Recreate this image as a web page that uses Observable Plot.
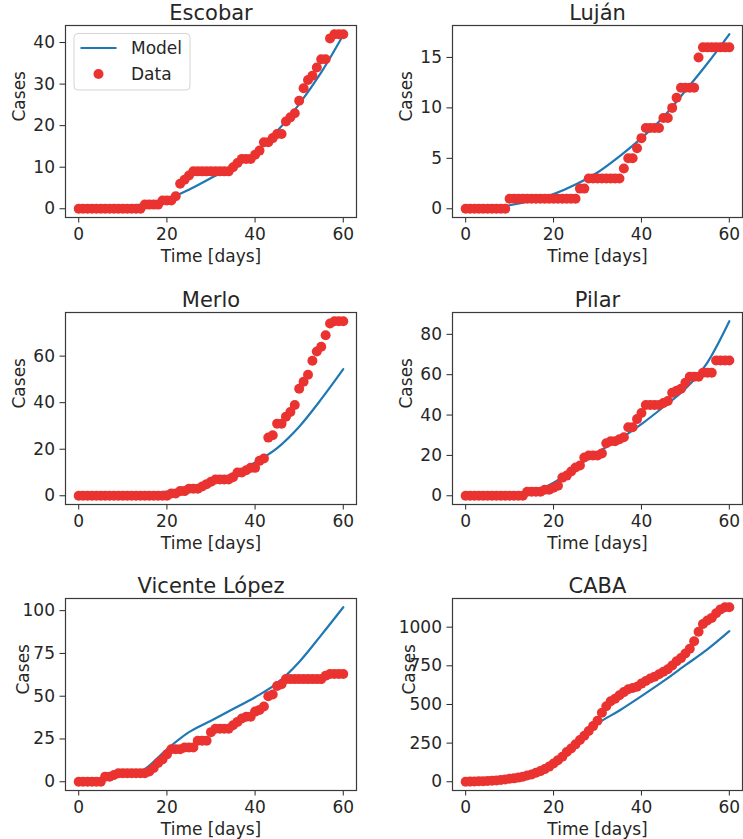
<!DOCTYPE html>
<html><head><meta charset="utf-8">
<script src="https://cdn.jsdelivr.net/npm/d3@7"></script>
<script src="https://cdn.jsdelivr.net/npm/@observablehq/plot@0.6"></script>
<style>
body{margin:0;background:#fff;overflow:hidden;}
#fig{position:relative;width:743px;height:839px;font-family:"DejaVu Sans",sans-serif;overflow:hidden;}
</style></head><body><div id="fig"></div>
<script>
const days = [0,1,2,3,4,5,6,7,8,9,10,11,12,13,14,15,16,17,18,19,20,21,22,23,24,25,26,27,28,29,30,31,32,33,34,35,36,37,38,39,40,41,42,43,44,45,46,47,48,49,50,51,52,53,54,55,56,57,58,59,60];
const modelDays = [0,5,10,15,20,25,30,35,40,45,50,55,60];
const xTicks = [0,20,40,60];
const titles = ["Escobar","Luján","Merlo","Pilar","Vicente López","CABA"];

const escobarCases = [0,0,0,0,0,0,0,0,0,0,0,0,0,0,0,1,1,1,1,2,2,2,3,6,7,8,9,9,9,9,9,9,9,9,9,10,11,12,12,12,13,14,16,16,17,18,18,21,22,23,26,29,31,32,34,36,36,41,42,42,42];
const lujanCases = [0,0,0,0,0,0,0,0,0,0,1,1,1,1,1,1,1,1,1,1,1,1,1,1,1,1,2,2,3,3,3,3,3,3,3,3,4,5,5,6,7,8,8,8,8,9,9,10,11,12,12,12,12,15,16,16,16,16,16,16,16];
const merloCases = [0,0,0,0,0,0,0,0,0,0,0,0,0,0,0,0,0,0,0,0,0,1,1,2,2,3,3,3,4,5,6,7,7,7,7,8,10,10,11,12,12,15,16,25,26,31,31,34,36,39,46,49,52,58,62,64,69,74,75,75,75];
const pilarCases = [0,0,0,0,0,0,0,0,0,0,0,0,0,0,2,2,2,2,3,3,4,5,9,10,12,14,15,19,20,20,20,21,26,27,27,28,29,34,34,38,41,45,45,45,45,46,47,51,52,53,56,59,59,59,61,61,61,67,67,67,67];
const vicenteCases = [0,0,0,0,0,0,3,3,4,5,5,5,5,5,5,5,6,8,11,13,16,19,19,19,20,20,20,24,24,24,29,31,31,31,31,33,35,37,38,38,41,42,44,50,51,56,57,60,60,60,60,60,60,60,60,60,62,63,63,63,63];
const cabaCases = [0,1,2,3,4,5,7,9,11,15,19,22,27,33,41,47,58,69,82,98,118,140,162,192,215,242,270,298,328,360,395,446,489,521,537,560,580,598,607,615,635,652,668,680,695,712,728,752,780,800,830,860,909,970,1021,1043,1060,1090,1115,1129,1129];

const escobarModel = [0,0.2,0.6,1.1,2.3,4.6,7.4,10.2,13.5,18.7,25.2,32.8,41.8];
const lujanModel = [0,0.05,0.35,0.8,1.45,2.4,3.6,5.2,7.0,9.1,11.7,14.4,17.3];
const merloModel = [0,0.1,0.4,1.0,1.8,3.5,6.0,9.5,14.3,20.5,29.7,41.5,54.4];
const pilarModel = [0,0.1,0.5,1.6,6.5,14,21.5,28,35.5,44,53,66,86.5];
const vicenteModel = [0,1,3.5,7.5,19,29,35.7,42.5,49.4,57.6,70,85.7,102];
const cabaModel = [0,7,20,55,125,250,375,461,554,651,754,856,974];

const escobarTicks = [0,10,20,30,40];
const lujanTicks = [0,5,10,15];
const merloTicks = [0,20,40,60];
const pilarTicks = [0,20,40,60,80];
const vicenteTicks = [0,25,50,75,100];
const cabaTicks = [0,250,500,750,1000];

const casesList = [escobarCases,lujanCases,merloCases,pilarCases,vicenteCases,cabaCases];
const modelList = [escobarModel,lujanModel,merloModel,pilarModel,vicenteModel,cabaModel];
const tickList = [escobarTicks,lujanTicks,merloTicks,pilarTicks,vicenteTicks,cabaTicks];

const red = "#ea3330", blue = "#1f77b4", ink = "#262626";
const FS = 17, TFS = 21;
const fig = document.getElementById("fig");

titles.forEach((title, i) => {
  const col = i % 2, row = Math.floor(i / 2);
  const cases = casesList[i], model = modelList[i];
  const all = cases.concat(model);
  const lo = d3.min(all), hi = d3.max(all), pad = 0.05 * (hi - lo);
  const xlo = d3.min(days), xhi = d3.max(days), xpad = 0.05 * (xhi - xlo);
  const labelDx = row === 2 ? (col ? -43 : -42) : (col ? -45.5 : -46);
  const chart = Plot.plot({
    width: col ? 356 : 371,
    height: 267,
    marginLeft: 65, marginRight: col ? 1 : 15, marginTop: 25, marginBottom: 50,
    style: {fontFamily: "DejaVu Sans", fontSize: FS + "px", color: ink, background: "transparent", overflow: "visible"},
    x: {domain: [xlo - xpad, xhi + xpad], ticks: xTicks, tickSize: 5.5, tickPadding: 4.5, tickFormat: "d", label: null},
    y: {domain: [lo - pad, hi + pad], ticks: tickList[i], tickSize: 5.5, tickPadding: 5, tickFormat: "d", label: null},
    marks: [
      Plot.frame({stroke: "#3a3a3a", strokeWidth: 1.2}),
      Plot.line(modelDays.map((d, j) => ({d, v: model[j]})), {x: "d", y: "v", stroke: blue, strokeWidth: 2.2, curve: "monotone-x"}),
      Plot.dot(days.map((d, j) => ({d, v: cases[j]})), {x: "d", y: "v", r: 5, fill: red, stroke: "none"}),
      Plot.text([title], {frameAnchor: "top", dy: -6, lineAnchor: "bottom", fontSize: TFS, fill: ink}),
      Plot.text(["Time [days]"], {frameAnchor: "bottom", dy: 39, lineAnchor: "middle", fontSize: FS, fill: ink}),
      Plot.text(["Cases"], {frameAnchor: "left", dx: labelDx, rotate: -90, lineAnchor: "middle", fontSize: FS, fill: ink})
    ]
  });
  chart.style.position = "absolute";
  chart.style.left = (col ? 387 : 0) + "px";
  chart.style.top = [0, 287, 573][row] + "px";
  fig.appendChild(chart);
});

// legend (Escobar panel)
const ns = "http://www.w3.org/2000/svg";
const leg = document.createElementNS(ns, "svg");
leg.setAttribute("width", 743); leg.setAttribute("height", 839);
leg.style.position = "absolute"; leg.style.left = "0px"; leg.style.top = "0px"; leg.style.pointerEvents = "none";
leg.innerHTML = `
<rect x="74" y="33.5" width="116" height="56.5" rx="4" fill="white" fill-opacity="0.8" stroke="#d5d5d5" stroke-width="1"/>
<line x1="80.5" x2="116.5" y1="48" y2="48" stroke="${blue}" stroke-width="2.2"/>
<circle cx="98.5" cy="74" r="5" fill="${red}"/>
<text x="131" y="48" dy="0.35em" font-family="DejaVu Sans" font-size="${FS}" fill="${ink}">Model</text>
<text x="131" y="74" dy="0.35em" font-family="DejaVu Sans" font-size="${FS}" fill="${ink}">Data</text>`;
fig.appendChild(leg);
</script></body></html>
